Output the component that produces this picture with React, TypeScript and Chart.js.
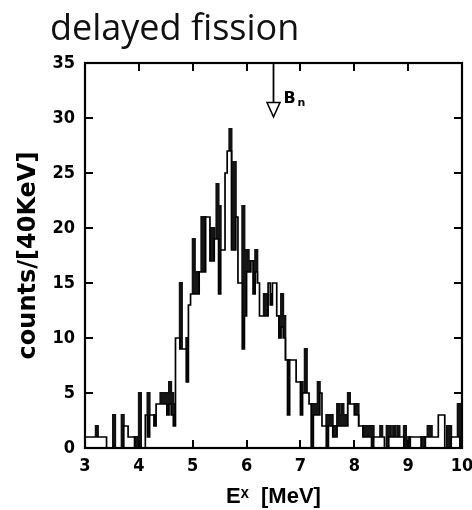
import React, { useEffect, useRef } from 'react';
import { Chart, registerables } from 'chart.js';

Chart.register(...registerables);

// ---- data -------------------------------------------------------------
const ENERGY_MIN = 3;
const ENERGY_MAX = 10;
const BIN_WIDTH = 0.04; // MeV (40 keV bins)
const COUNT_MAX = 35;

const xTickValues = [3, 4, 5, 6, 7, 8, 9, 10];
const yTickValues = [0, 5, 10, 15, 20, 25, 30, 35];

// open (outline) histogram, counts per 40 keV bin starting at 3.00 MeV
const outlineCounts = [
  1, 1, 1, 1, 1, 1, 1, 1, 1, 1,
  0, 0, 0, 0, 0, 0, 0, 0, 2, 2,
  1, 1, 1, 0, 0, 0, 0, 0, 3, 1,
  3, 3, 2, 4, 4, 4, 4, 4, 3, 4,
  3, 2, 10, 10, 9, 9, 9, 6, 13, 14,
  14, 14, 14, 16, 16, 16, 21, 21, 17, 17,
  19, 19, 14, 18, 18, 25, 27, 27, 18, 18,
  21, 15, 15, 9, 12, 16, 16, 17, 14, 16,
  15, 12, 12, 12, 12, 15, 13, 15, 15, 12,
  10, 11, 10, 8, 3, 8, 8, 8, 6, 6,
  3, 5, 5, 5, 4, 0, 3, 3, 3, 5,
  2, 2, 0, 2, 2, 1, 1, 2, 2, 2,
  2, 2, 4, 4, 4, 3, 3, 2, 2, 1,
  1, 1, 1, 0, 1, 1, 1, 1, 1, 0,
  0, 1, 1, 1, 1, 1, 1, 1, 0, 0,
  0, 1, 1, 1, 1, 1, 0, 0, 1, 1,
  1, 1, 1, 1, 3, 3, 3, 0, 0, 0,
  1, 1, 1, 1, 0,
];

// shaded (black) histogram, visible where it exceeds the outline
const shadedCounts = [
  0, 0, 0, 0, 0, 2, 0, 0, 0, 0,
  0, 0, 0, 3, 0, 0, 0, 3, 0, 0,
  0, 0, 0, 1, 1, 5, 0, 0, 0, 5,
  0, 0, 3, 0, 0, 5, 5, 5, 5, 6,
  5, 4, 0, 0, 15, 0, 0, 10, 0, 0,
  19, 16, 16, 0, 21, 21, 0, 0, 20, 20,
  0, 24, 22, 0, 0, 0, 0, 29, 26, 26,
  0, 0, 0, 22, 18, 18, 17, 0, 17, 18,
  0, 0, 0, 14, 14, 0, 14, 0, 0, 0,
  12, 14, 12, 0, 8, 0, 0, 0, 0, 0,
  6, 0, 9, 0, 0, 4, 4, 4, 6, 0,
  0, 0, 3, 3, 3, 2, 2, 4, 3, 4,
  3, 3, 5, 0, 0, 4, 4, 0, 0, 2,
  2, 2, 2, 2, 0, 0, 0, 2, 0, 0,
  2, 2, 0, 2, 0, 2, 0, 0, 2, 0,
  1, 0, 0, 0, 0, 0, 1, 1, 0, 2,
  2, 0, 0, 0, 0, 0, 0, 0, 2, 2,
  0, 0, 0, 4, 4,
];

// neutron binding energy marker
const BN_ENERGY = 6.5;
const BN_ARROW_BASE = 31.4;
const BN_ARROW_TIP = 30.1;

// ---- helpers ----------------------------------------------------------
function toSteps(counts: number[]) {
  const pts: { x: number; y: number }[] = [{ x: ENERGY_MIN, y: 0 }];
  counts.forEach((c, i) => {
    pts.push({ x: +(ENERGY_MIN + i * BIN_WIDTH).toFixed(3), y: c });
  });
  pts.push({ x: ENERGY_MAX, y: counts[counts.length - 1] });
  pts.push({ x: ENERGY_MAX, y: 0 });
  return pts;
}

const TICK_FONT = '"Liberation Sans Narrow", "DejaVu Sans Condensed", "Liberation Sans", sans-serif';
const TICK_LEN = 8;

// frame with inward tick marks on all four sides, plus the B_n arrow
const framePlugin = {
  id: 'frameAndMarker',
  afterDraw(chart: any) {
    const { ctx, chartArea } = chart;
    const xs = chart.scales.x;
    const ys = chart.scales.y;
    const { left, right, top, bottom } = chartArea;
    ctx.save();
    ctx.strokeStyle = '#000';
    ctx.lineWidth = 2;
    ctx.beginPath();
    xTickValues.forEach((v) => {
      const px = Math.round(xs.getPixelForValue(v));
      ctx.moveTo(px, bottom);
      ctx.lineTo(px, bottom - TICK_LEN);
      ctx.moveTo(px, top);
      ctx.lineTo(px, top + TICK_LEN);
    });
    yTickValues.forEach((v) => {
      const py = Math.round(ys.getPixelForValue(v));
      ctx.moveTo(left, py);
      ctx.lineTo(left + TICK_LEN, py);
      ctx.moveTo(right, py);
      ctx.lineTo(right - TICK_LEN, py);
    });
    ctx.stroke();
    ctx.lineWidth = 2.2;
    ctx.strokeRect(left, top, right - left, bottom - top);

    // B_n arrow
    const bx = xs.getPixelForValue(BN_ENERGY);
    const yBase = ys.getPixelForValue(BN_ARROW_BASE);
    const yTip = ys.getPixelForValue(BN_ARROW_TIP);
    const yStart = ys.getPixelForValue(COUNT_MAX);
    ctx.lineWidth = 1.8;
    ctx.beginPath();
    ctx.moveTo(bx, yStart);
    ctx.lineTo(bx, yBase);
    ctx.stroke();
    ctx.lineWidth = 1.5;
    ctx.beginPath();
    ctx.moveTo(bx - 6.5, yBase);
    ctx.lineTo(bx + 6.5, yBase);
    ctx.lineTo(bx, yTip);
    ctx.closePath();
    ctx.fillStyle = '#fff';
    ctx.fill();
    ctx.stroke();
    ctx.fillStyle = '#000';
    ctx.textBaseline = 'alphabetic';
    ctx.textAlign = 'left';
    ctx.font = 'bold 16px "DejaVu Sans", sans-serif';
    ctx.fillText('B', bx + 10, yBase);
    ctx.font = 'bold 11px "DejaVu Sans", sans-serif';
    ctx.fillText('n', bx + 24, yBase + 3);
    ctx.restore();
  },
};

export default function App() {
  const canvasRef = useRef<HTMLCanvasElement | null>(null);

  useEffect(() => {
    document.body.style.margin = '0';
    document.body.style.overflow = 'hidden';
    if (!canvasRef.current) return;

    const tickFont = { family: TICK_FONT, size: 18, weight: 'bold' as const };
    const grid = { display: false, drawTicks: false, drawOnChartArea: false };
    const border = { display: false };

    const chart = new Chart(canvasRef.current, {
      type: 'line',
      data: {
        datasets: [
          {
            label: 'outline',
            data: toSteps(outlineCounts),
            stepped: 'before',
            borderColor: '#000',
            borderWidth: 1.7,
            backgroundColor: '#fff',
            fill: 'origin',
            pointRadius: 0,
            order: 1,
          },
          {
            label: 'shaded',
            data: toSteps(shadedCounts),
            stepped: 'before',
            borderColor: '#111',
            borderWidth: 2,
            backgroundColor: '#161616',
            fill: 'origin',
            pointRadius: 0,
            order: 2,
          },
        ],
      },
      options: {
        animation: false,
        responsive: true,
        maintainAspectRatio: false,
        layout: { padding: { top: 63, right: 10, left: 0, bottom: 0 } },
        plugins: {
          legend: { display: false },
          tooltip: { enabled: false },
          title: { display: false },
        },
        scales: {
          x: {
            type: 'linear',
            position: 'bottom',
            min: ENERGY_MIN,
            max: ENERGY_MAX,
            afterBuildTicks: (s: any) => {
              s.ticks = xTickValues.map((value) => ({ value }));
            },
            afterFit: (s: any) => {
              s.height = 62;
              s.paddingLeft = 0;
              s.paddingRight = 0;
            },
            ticks: {
              font: tickFont,
              color: '#000',
              padding: 8,
              autoSkip: false,
              maxRotation: 0,
              callback: (v: any) => String(v),
            },
            grid,
            border,
            title: {
              display: true,
              text: 'Eˣ  [MeV]',
              color: '#000',
              font: { family: '"Liberation Sans", "DejaVu Sans", sans-serif', size: 22, weight: 'bold' },
              padding: { top: 0, bottom: 0 },
            },
          },
          y: {
            type: 'linear',
            position: 'left',
            min: 0,
            max: COUNT_MAX,
            afterBuildTicks: (s: any) => {
              s.ticks = yTickValues.map((value) => ({ value }));
            },
            afterFit: (s: any) => {
              s.width = 85;
              s.paddingTop = 0;
              s.paddingBottom = 0;
            },
            ticks: {
              font: tickFont,
              color: '#000',
              padding: 10,
              callback: (v: any) => String(v),
            },
            grid,
            border,
            title: {
              display: true,
              text: 'counts/[40KeV]',
              color: '#000',
              font: { family: '"DejaVu Sans", sans-serif', size: 24, weight: 'bold' },
              padding: { top: 14, bottom: 0 },
            },
          },
        },
      } as any,
      plugins: [framePlugin],
    });

    return () => {
      chart.destroy();
    };
  }, []);

  return (
    <div style={{ position: 'relative', width: 472, height: 510, background: '#fff' }}>
      <canvas ref={canvasRef} />
      <div
        style={{
          position: 'absolute',
          left: 50,
          top: 2,
          fontFamily: '"Open Sans", sans-serif',
          fontSize: 36,
          color: '#111',
          lineHeight: 'normal',
          whiteSpace: 'nowrap',
        }}
      >
        delayed fission
      </div>
    </div>
  );
}
